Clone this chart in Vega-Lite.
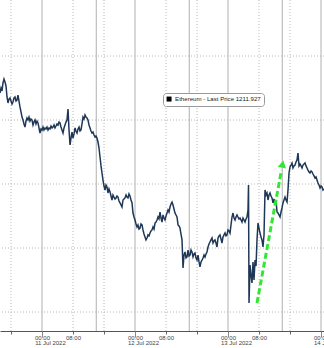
{
  "$schema": "https://vega.github.io/schema/vega-lite/v6.json",
  "width": 324,
  "height": 331,
  "autosize": {"type": "none"},
  "padding": {"left": 0, "top": 0, "right": 0, "bottom": 17},
  "background": "white",
  "config": {"view": {"stroke": null}, "font": "Liberation Sans"},
  "datasets": {
    "eth": [
      {"t":13.16,"p":1171.1},{"t":13.42,"p":1175.0},{"t":13.68,"p":1172.7},{"t":13.93,"p":1178.9},{"t":14.19,"p":1182.0},{"t":14.45,"p":1179.7},{"t":14.71,"p":1176.6},{"t":14.97,"p":1168.0},{"t":15.22,"p":1163.3},{"t":15.48,"p":1166.4},{"t":15.74,"p":1167.2},{"t":16.00,"p":1164.8},{"t":16.26,"p":1162.5},{"t":16.51,"p":1164.1},{"t":16.77,"p":1167.2},{"t":17.03,"p":1168.0},{"t":17.29,"p":1164.8},{"t":17.55,"p":1165.6},{"t":17.80,"p":1169.5},{"t":18.06,"p":1164.8},{"t":18.32,"p":1160.2},{"t":18.58,"p":1156.3},{"t":18.84,"p":1152.3},{"t":19.10,"p":1150.0},{"t":19.35,"p":1146.9},{"t":19.61,"p":1144.5},{"t":19.87,"p":1149.2},{"t":20.13,"p":1151.6},{"t":20.39,"p":1150.0},{"t":20.64,"p":1152.3},{"t":20.90,"p":1149.2},
      {"t":21.16,"p":1150.8},{"t":21.42,"p":1150.0},{"t":21.68,"p":1146.1},{"t":21.93,"p":1148.4},{"t":22.19,"p":1150.0},{"t":22.45,"p":1146.9},{"t":22.71,"p":1149.2},{"t":22.97,"p":1147.7},{"t":23.22,"p":1143.8},{"t":23.48,"p":1139.8},{"t":23.74,"p":1143.0},{"t":24.00,"p":1142.2},{"t":24.26,"p":1144.5},{"t":24.51,"p":1142.2},{"t":24.77,"p":1143.8},{"t":25.03,"p":1143.0},{"t":25.29,"p":1144.5},{"t":25.55,"p":1142.2},{"t":25.80,"p":1143.8},{"t":26.06,"p":1143.0},{"t":26.32,"p":1145.3},{"t":26.58,"p":1143.8},{"t":26.84,"p":1144.5},{"t":27.10,"p":1146.1},{"t":27.35,"p":1143.8},{"t":27.61,"p":1145.3},{"t":27.87,"p":1146.9},{"t":28.13,"p":1146.1},{"t":28.39,"p":1148.4},{"t":28.64,"p":1147.7},{"t":28.90,"p":1144.5},
      {"t":29.16,"p":1142.2},{"t":29.42,"p":1139.8},{"t":29.68,"p":1143.8},{"t":29.93,"p":1146.1},{"t":30.19,"p":1148.4},{"t":30.45,"p":1150.0},{"t":30.71,"p":1158.6},{"t":30.97,"p":1142.2},{"t":31.23,"p":1130.5},{"t":31.48,"p":1135.9},{"t":31.74,"p":1140.6},{"t":32.00,"p":1135.9},{"t":32.26,"p":1139.1},{"t":32.52,"p":1143.8},{"t":32.77,"p":1141.4},{"t":33.03,"p":1139.8},{"t":33.29,"p":1143.0},{"t":33.55,"p":1144.5},{"t":33.81,"p":1141.4},{"t":34.06,"p":1142.2},{"t":34.32,"p":1146.9},{"t":34.58,"p":1152.3},{"t":34.84,"p":1150.8},{"t":35.10,"p":1153.9},{"t":35.35,"p":1152.3},{"t":35.61,"p":1151.6},{"t":35.87,"p":1150.0},{"t":36.13,"p":1146.1},{"t":36.39,"p":1143.8},{"t":36.64,"p":1141.4},{"t":36.90,"p":1139.8},
      {"t":37.16,"p":1140.6},{"t":37.42,"p":1138.3},{"t":37.68,"p":1136.7},{"t":37.93,"p":1137.5},{"t":38.19,"p":1135.9},{"t":38.45,"p":1132.8},{"t":38.71,"p":1128.1},{"t":38.97,"p":1121.1},{"t":39.23,"p":1114.1},{"t":39.48,"p":1108.6},{"t":39.74,"p":1103.1},{"t":40.00,"p":1098.4},{"t":40.26,"p":1095.3},{"t":40.52,"p":1099.2},{"t":40.77,"p":1097.7},{"t":41.03,"p":1093.0},{"t":41.29,"p":1096.1},{"t":41.55,"p":1093.8},{"t":41.81,"p":1090.6},{"t":42.06,"p":1087.5},{"t":42.32,"p":1091.4},{"t":42.58,"p":1089.8},{"t":42.84,"p":1088.3},{"t":43.10,"p":1089.1},{"t":43.35,"p":1090.6},{"t":43.61,"p":1089.8},{"t":43.87,"p":1086.7},{"t":44.13,"p":1085.2},{"t":44.39,"p":1083.6},{"t":44.64,"p":1082.0},{"t":44.90,"p":1087.5},
      {"t":45.16,"p":1088.3},{"t":45.42,"p":1089.1},{"t":45.68,"p":1091.4},{"t":45.93,"p":1089.8},{"t":46.19,"p":1089.1},{"t":46.45,"p":1092.2},{"t":46.71,"p":1090.6},{"t":46.97,"p":1087.5},{"t":47.23,"p":1085.2},{"t":47.48,"p":1077.3},{"t":47.74,"p":1074.2},{"t":48.00,"p":1071.9},{"t":48.26,"p":1068.8},{"t":48.52,"p":1066.4},{"t":48.77,"p":1068.0},{"t":49.03,"p":1064.8},{"t":49.29,"p":1065.6},{"t":49.55,"p":1068.8},{"t":49.81,"p":1068.0},{"t":50.06,"p":1064.1},{"t":50.32,"p":1060.9},{"t":50.58,"p":1058.6},{"t":50.84,"p":1056.3},{"t":51.10,"p":1057.8},{"t":51.35,"p":1060.2},{"t":51.61,"p":1059.4},{"t":51.87,"p":1061.7},{"t":52.13,"p":1063.3},{"t":52.39,"p":1064.1},{"t":52.64,"p":1066.4},{"t":52.90,"p":1064.8},
      {"t":53.16,"p":1069.5},{"t":53.42,"p":1070.3},{"t":53.68,"p":1071.9},{"t":53.93,"p":1074.2},{"t":54.19,"p":1072.7},{"t":54.45,"p":1078.1},{"t":54.71,"p":1073.4},{"t":54.97,"p":1070.3},{"t":55.23,"p":1075.8},{"t":55.48,"p":1073.4},{"t":55.74,"p":1071.9},{"t":56.00,"p":1075.0},{"t":56.26,"p":1077.3},{"t":56.52,"p":1079.7},{"t":56.77,"p":1078.1},{"t":57.03,"p":1082.0},{"t":57.29,"p":1084.4},{"t":57.55,"p":1085.9},{"t":57.81,"p":1083.6},{"t":58.06,"p":1080.5},{"t":58.32,"p":1077.3},{"t":58.58,"p":1075.8},{"t":58.84,"p":1074.2},{"t":59.10,"p":1068.0},{"t":59.35,"p":1067.2},{"t":59.61,"p":1065.6},{"t":59.87,"p":1060.9},{"t":60.13,"p":1056.3},{"t":60.39,"p":1034.4},{"t":60.64,"p":1044.5},{"t":60.90,"p":1046.9},
      {"t":61.16,"p":1042.2},{"t":61.42,"p":1043.0},{"t":61.68,"p":1048.4},{"t":61.93,"p":1043.8},{"t":62.19,"p":1044.5},{"t":62.45,"p":1048.4},{"t":62.71,"p":1046.9},{"t":62.97,"p":1043.0},{"t":63.23,"p":1045.3},{"t":63.48,"p":1046.1},{"t":63.74,"p":1042.2},{"t":64.00,"p":1040.6},{"t":64.26,"p":1044.5},{"t":64.52,"p":1039.1},{"t":64.77,"p":1035.2},{"t":65.03,"p":1039.1},{"t":65.29,"p":1040.6},{"t":65.55,"p":1042.2},{"t":65.81,"p":1044.5},{"t":66.06,"p":1043.0},{"t":66.32,"p":1045.3},{"t":66.58,"p":1046.9},{"t":66.84,"p":1050.8},{"t":67.10,"p":1053.1},{"t":67.35,"p":1054.7},{"t":67.61,"p":1056.3},{"t":67.87,"p":1057.8},{"t":68.13,"p":1053.9},{"t":68.39,"p":1055.5},{"t":68.64,"p":1056.3},{"t":68.90,"p":1053.9},
      {"t":69.16,"p":1050.8},{"t":69.42,"p":1057.8},{"t":69.68,"p":1059.4},{"t":69.93,"p":1060.2},{"t":70.19,"p":1057.0},{"t":70.45,"p":1053.9},{"t":70.71,"p":1058.6},{"t":70.97,"p":1060.2},{"t":71.23,"p":1061.7},{"t":71.48,"p":1059.4},{"t":71.74,"p":1060.2},{"t":72.00,"p":1064.1},{"t":72.26,"p":1063.3},{"t":72.52,"p":1061.7},{"t":72.77,"p":1068.0},{"t":73.03,"p":1074.2},{"t":73.29,"p":1077.3},{"t":73.55,"p":1073.4},{"t":73.81,"p":1071.9},{"t":74.06,"p":1074.2},{"t":74.32,"p":1075.8},{"t":74.58,"p":1074.2},{"t":74.84,"p":1072.7},{"t":75.10,"p":1073.4},{"t":75.35,"p":1071.9},{"t":75.61,"p":1070.3},{"t":75.87,"p":1073.4},{"t":76.13,"p":1071.9},{"t":76.39,"p":1070.3},{"t":76.64,"p":1072.7},{"t":76.90,"p":1074.2},
      {"t":77.16,"p":1079.7},{"t":77.29,"p":1099.2},{"t":77.42,"p":1007.0},{"t":77.68,"p":1036.7},{"t":77.93,"p":1028.9},{"t":78.19,"p":1022.7},{"t":78.45,"p":1039.1},{"t":78.71,"p":1025.0},{"t":78.97,"p":1040.6},{"t":79.23,"p":1035.9},{"t":79.48,"p":1056.3},{"t":79.74,"p":1069.5},{"t":80.00,"p":1065.6},{"t":80.26,"p":1061.7},{"t":80.52,"p":1058.6},{"t":80.77,"p":1056.3},{"t":81.03,"p":1050.8},{"t":81.29,"p":1060.2},{"t":81.55,"p":1095.3},{"t":81.81,"p":1091.4},{"t":82.06,"p":1093.0},{"t":82.32,"p":1087.5},{"t":82.58,"p":1091.4},{"t":82.84,"p":1093.0},{"t":83.10,"p":1090.6},{"t":83.35,"p":1089.1},{"t":83.61,"p":1085.2},{"t":83.87,"p":1088.3},{"t":84.13,"p":1085.2},{"t":84.39,"p":1087.5},{"t":84.64,"p":1078.1},{"t":84.90,"p":1077.3},
      {"t":85.16,"p":1075.8},{"t":85.42,"p":1074.2},{"t":85.68,"p":1078.1},{"t":85.93,"p":1081.3},{"t":86.19,"p":1085.2},{"t":86.45,"p":1087.5},{"t":86.71,"p":1089.8},{"t":86.97,"p":1087.5},{"t":87.23,"p":1085.9},{"t":87.48,"p":1095.3},{"t":87.74,"p":1108.6},{"t":88.00,"p":1113.3},{"t":88.26,"p":1114.8},{"t":88.52,"p":1116.4},{"t":88.77,"p":1112.5},{"t":89.03,"p":1114.1},{"t":89.29,"p":1114.8},{"t":89.55,"p":1117.2},{"t":89.81,"p":1118.8},{"t":90.06,"p":1124.2},{"t":90.32,"p":1114.1},{"t":90.58,"p":1115.6},{"t":90.84,"p":1114.1},{"t":91.10,"p":1112.5},{"t":91.35,"p":1114.8},{"t":91.61,"p":1115.6},{"t":91.87,"p":1116.4},{"t":92.13,"p":1114.1},{"t":92.39,"p":1112.5},{"t":92.64,"p":1110.9},{"t":92.90,"p":1109.4},
      {"t":93.16,"p":1108.6},{"t":93.42,"p":1110.2},{"t":93.68,"p":1109.4},{"t":93.93,"p":1107.8},{"t":94.19,"p":1106.3},{"t":94.45,"p":1104.7},{"t":94.71,"p":1105.5},{"t":94.97,"p":1103.1},{"t":95.22,"p":1100.8},{"t":95.48,"p":1099.2},{"t":95.74,"p":1096.9},{"t":96.00,"p":1098.4},{"t":96.26,"p":1097.7},{"t":96.52,"p":1095.3},{"t":96.77,"p":1096.1}
    ],
    "solidGrid": [{"t":24},{"t":38},{"t":48},{"t":62},{"t":72},{"t":86},{"t":96}],
    "dotGrid": [{"t":16},{"t":32},{"t":40},{"t":56},{"t":64},{"t":80},{"t":88}],
    "hGrid": [{"p":1000},{"p":1050},{"p":1100},{"p":1150},{"p":1200}],
    "arrow": [{"t":79.48,"p":1007.0},{"t":85.8,"p":1110.9}],
    "head": [{"t":86.1,"p":1115.5}]
  },
  "resolve": {"axis": {"x": "independent"}},
  "layer": [
    {
      "data": {"name": "hGrid"},
      "mark": {"type": "rule", "color": "#b8b8b8", "strokeWidth": 1, "strokeDash": [1, 2]},
      "encoding": {"y": {"field": "p", "type": "quantitative", "scale": {"domain": [985.16, 1243.75], "nice": false, "zero": false}, "axis": null}}
    },
    {
      "data": {"name": "dotGrid"},
      "mark": {"type": "rule", "color": "#b8b8b8", "strokeWidth": 1, "strokeDash": [1, 2]},
      "encoding": {"x": {"field": "t", "type": "quantitative", "scale": {"domain": [13.16, 96.77], "nice": false, "zero": false}, "axis": null}}
    },
    {
      "data": {"name": "solidGrid"},
      "mark": {"type": "rule", "color": "#b0b0b0", "strokeWidth": 1},
      "encoding": {"x": {"field": "t", "type": "quantitative", "scale": {"domain": [13.16, 96.77], "nice": false, "zero": false},
        "axis": {"orient": "bottom", "values": [16, 24, 32, 40, 48, 56, 64, 72, 80, 88, 96], "labelExpr": "datum.value % 24 == 0 ? '00:00' : (datum.value % 24 == 8 ? '08:00' : '')",
            "domainColor": "#555", "domainWidth": 1, "tickColor": "#666", "tickSize": 3, "grid": false, "labelFontSize": 6, "labelColor": "#444", "labelPadding": 0, "labelFlush": false, "labelOverlap": false, "labelBound": false, "title": null}}}
    },
    {
      "data": {"name": "eth"},
      "mark": {"type": "line", "strokeWidth": 1.5, "interpolate": "linear"},
      "encoding": {
        "x": {"field": "t", "type": "quantitative", "scale": {"domain": [13.16, 96.77], "nice": false, "zero": false},
          "axis": {"orient": "bottom", "values": [24, 48, 72, 96], "labelExpr": "datum.value == 24 ? '11 Jul 2022' : datum.value == 48 ? '12 Jul 2022' : datum.value == 72 ? '13 Jul 2022' : '14 Jul 2022'",
          "domain": false, "ticks": true, "tickSize": 6, "tickColor": "#888", "grid": false, "labelFontSize": 6, "labelColor": "#444", "labelPadding": 2, "labelOffset": 8, "labelFlush": false, "labelOverlap": false, "labelBound": false, "title": null}},
        "y": {"field": "p", "type": "quantitative", "scale": {"domain": [985.16, 1243.75], "nice": false, "zero": false}, "axis": null},
        "color": {"datum": "Ethereum - Last Price 1211.927", "type": "nominal", "scale": {"range": ["#1f3756"]},
          "legend": {"orient": "none", "legendX": 163, "legendY": 93, "title": null, "symbolType": "square", "symbolSize": 25, "symbolStrokeWidth": 0,
            "labelFontSize": 6.1, "labelColor": "#222", "padding": 3, "strokeColor": "#999", "fillColor": "white", "cornerRadius": 3,
            "labelOffset": 3,
            "symbolFillColor": "#000",
            "labelLimit": 200}}
      }
    },
    {
      "data": {"name": "arrow"},
      "mark": {"type": "line", "color": "#33e633", "strokeWidth": 3, "strokeDash": [6, 3]},
      "encoding": {"x": {"field": "t", "type": "quantitative", "axis": null}, "y": {"field": "p", "type": "quantitative"}}
    },
    {
      "data": {"name": "head"},
      "mark": {"type": "point", "shape": "triangle-up", "filled": true, "color": "#33e633", "size": 70, "angle": 12, "opacity": 1},
      "encoding": {"x": {"field": "t", "type": "quantitative", "axis": null}, "y": {"field": "p", "type": "quantitative"}}
    }
  ]
}
